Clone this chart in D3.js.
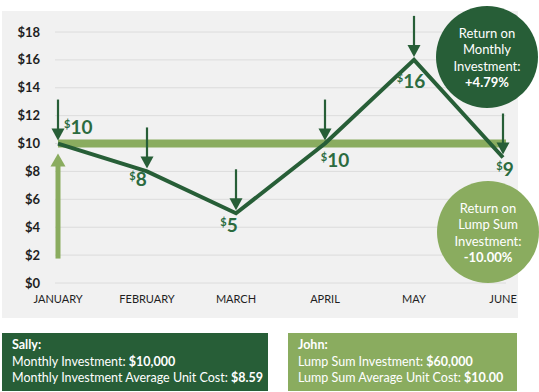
<!DOCTYPE html>
<html>
<head>
<meta charset="utf-8">
<script src="https://cdn.jsdelivr.net/npm/d3@7"></script>
<style>
  body { margin: 0; background: #fff; }
  svg { display: block; font-family: Lato, "Open Sans", sans-serif; }
</style>
</head>
<body>
<svg id="svg-main"></svg>
<script>
const DARK = "#275e37";
const LIGHT = "#8aac5f";
const LABEL_GREEN = "#2b6b3f";

// chart data
var months = ["JANUARY", "FEBRUARY", "MARCH", "APRIL", "MAY", "JUNE"];
var prices = [10, 8, 5, 10, 16, 9];
var lumpSumPrice = 10;
var yTicks = [0, 2, 4, 6, 8, 10, 12, 14, 16, 18];
var monthlyBadge = ["Return on", "Monthly", "Investment:", "+4.79%"];
var lumpBadge = ["Return on", "Lump Sum", "Investment:", "-10.00%"];
var sallyLines = [["Sally:", ""], ["Monthly Investment: ", "$10,000"], ["Monthly Investment Average Unit Cost: ", "$8.59"]];
var johnLines = [["John:", ""], ["Lump Sum Investment: ", "$60,000"], ["Lump Sum Average Unit Cost: ", "$10.00"]];

// where each price label sits relative to its point
var labelOffsets = [
    { dx: 6, dy: -10, anchor: "start" },
    { dx: -9, dy: 15, anchor: "middle" },
    { dx: -7, dy: 19, anchor: "middle" },
    { dx: 10, dy: 23, anchor: "middle" },
    { dx: -3, dy: 28, anchor: "middle" },
    { dx: 2, dy: 18, anchor: "middle" }
];

var Dims = {
    Width: 539,
    Height: 392,
    Panel: { X: 2, Y: 11, W: 516, H: 307 },
    Plot: { Left: 58, Right: 503, Top: 32, Bottom: 283 }
};

var svg = d3.select("#svg-main")
    .attr("width", Dims.Width)
    .attr("height", Dims.Height);

var x = d3.scalePoint().domain(months).range([Dims.Plot.Left, Dims.Plot.Right]);
var y = d3.scaleLinear().domain([0, 18]).range([Dims.Plot.Bottom, Dims.Plot.Top]);

drawChart();

function drawChart() {
    svg.append("rect")
        .attr("x", Dims.Panel.X).attr("y", Dims.Panel.Y)
        .attr("width", Dims.Panel.W).attr("height", Dims.Panel.H)
        .attr("fill", "#f1f1f1");

    // grid
    svg.append("g").selectAll("line")
        .data(yTicks)
        .enter().append("line")
        .attr("x1", 55).attr("x2", 506)
        .attr("y1", d => y(d)).attr("y2", d => y(d))
        .attr("stroke", "#dcdcdc").attr("stroke-width", 1);

    // y tick labels
    svg.append("g").selectAll("text")
        .data(yTicks)
        .enter().append("text")
        .attr("x", 40).attr("y", d => y(d))
        .attr("dy", "0.35em")
        .attr("text-anchor", "end")
        .attr("font-size", 13).attr("font-weight", "bold")
        .attr("fill", "#1f1f1f")
        .text(d => "$" + d);

    // x labels
    svg.append("g").selectAll("text")
        .data(months)
        .enter().append("text")
        .attr("x", d => x(d)).attr("y", 303)
        .attr("text-anchor", "middle")
        .attr("font-size", 11)
        .attr("fill", "#1f1f1f")
        .text(d => d);

    // lump sum level bar
    svg.append("line")
        .attr("x1", x(months[0])).attr("x2", x(months[months.length - 1]) + 3)
        .attr("y1", y(lumpSumPrice)).attr("y2", y(lumpSumPrice))
        .attr("stroke", LIGHT).attr("stroke-width", 8);

    // lump sum upward arrow
    var ax = x(months[0]);
    var tipY = y(lumpSumPrice) + 10;
    svg.append("line")
        .attr("x1", ax).attr("x2", ax)
        .attr("y1", y(lumpSumPrice) + 115).attr("y2", tipY + 10)
        .attr("stroke", LIGHT).attr("stroke-width", 5);
    svg.append("path")
        .attr("d", `M${ax},${tipY} L${ax - 7.5},${tipY + 13} L${ax + 7.5},${tipY + 13} Z`)
        .attr("fill", LIGHT);

    // price line
    var line = d3.line()
        .x((d, i) => x(months[i]))
        .y(d => y(d));
    svg.append("path")
        .datum(prices)
        .attr("d", line)
        .attr("fill", "none")
        .attr("stroke", DARK).attr("stroke-width", 4)
        .attr("stroke-linejoin", "miter");

    // purchase arrows
    var arrows = svg.append("g").selectAll("g")
        .data(prices)
        .enter().append("g")
        .attr("transform", (d, i) => `translate(${x(months[i])},${y(d) - 3})`);
    arrows.append("line")
        .attr("x1", 0).attr("x2", 0)
        .attr("y1", -41).attr("y2", -8)
        .attr("stroke", DARK).attr("stroke-width", 2.2);
    arrows.append("path")
        .attr("d", "M0,0 L-6.5,-12 L6.5,-12 Z")
        .attr("fill", DARK);

    // price labels
    var labels = svg.append("g").selectAll("text")
        .data(prices)
        .enter().append("text")
        .attr("x", (d, i) => x(months[i]) + labelOffsets[i].dx)
        .attr("y", (d, i) => y(d) + labelOffsets[i].dy)
        .attr("text-anchor", (d, i) => labelOffsets[i].anchor)
        .attr("fill", LABEL_GREEN)
        .attr("font-weight", "bold");
    labels.append("tspan")
        .attr("font-size", 11).attr("dy", -6)
        .text("$");
    labels.append("tspan")
        .attr("font-size", 19).attr("dy", 6)
        .text(d => d);

    drawBadge(487, 57, DARK, monthlyBadge);
    drawBadge(488, 232, LIGHT, lumpBadge);

    drawBox(2, 333, 266, 58, DARK, sallyLines);
    drawBox(288, 333, 229, 58, LIGHT, johnLines);
}

function drawBadge(cx, cy, color, lines) {
    var g = svg.append("g").attr("transform", `translate(${cx},${cy})`);
    g.append("circle").attr("r", 51).attr("fill", color);
    g.selectAll("text")
        .data(lines)
        .enter().append("text")
        .attr("x", 0)
        .attr("y", (d, i) => -24 + i * 16.5)
        .attr("dy", "0.35em")
        .attr("text-anchor", "middle")
        .attr("font-size", 13)
        .attr("font-weight", (d, i) => i === lines.length - 1 ? "bold" : "normal")
        .attr("fill", "#fff")
        .text(d => d);
}

function drawBox(bx, by, bw, bh, color, lines) {
    svg.append("rect")
        .attr("x", bx).attr("y", by)
        .attr("width", bw).attr("height", bh)
        .attr("fill", color);
    var t = svg.append("g").selectAll("text")
        .data(lines)
        .enter().append("text")
        .attr("x", bx + 10)
        .attr("y", (d, i) => by + 16 + i * 16.5)
        .attr("font-size", 12.5)
        .attr("fill", "#fff");
    t.append("tspan")
        .attr("font-weight", (d, i) => i === 0 ? "bold" : "normal")
        .text(d => d[0]);
    t.append("tspan")
        .attr("font-weight", "bold")
        .text(d => d[1]);
}
</script>
</body>
</html>
